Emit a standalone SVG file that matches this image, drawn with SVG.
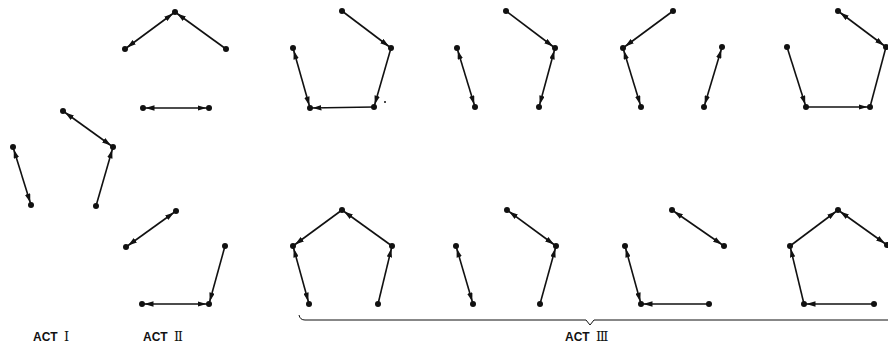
<svg xmlns="http://www.w3.org/2000/svg" width="888" height="351" viewBox="0 0 888 351">
<style>
.e{stroke:#111;stroke-width:1.6;fill:none}
.d circle{fill:#111}
.lbl{font-family:"Liberation Sans","DejaVu Sans",sans-serif;font-size:12px;font-weight:bold;fill:#111}
.rn{font-family:"DejaVu Serif","Liberation Serif",serif;font-weight:normal;font-size:13px;letter-spacing:-1.5px}
.br{stroke:#111;stroke-width:1;fill:none}
</style>
<defs>
<marker id="a" markerUnits="userSpaceOnUse" viewBox="0 0 9 5.5" markerWidth="9" markerHeight="5.5" refX="11.5" refY="2.75" orient="auto-start-reverse">
<path d="M0,0 L9,2.75 L0,5.5 z" fill="#111"/>
</marker>
</defs>
<g id="connectors">
<!-- Act I -->
<line class="e" x1="63" y1="111" x2="113" y2="147" marker-start="url(#a)" marker-end="url(#a)"/>
<line class="e" x1="113" y1="147" x2="96" y2="206" marker-start="url(#a)"/>
<line class="e" x1="13" y1="147" x2="31" y2="205" marker-start="url(#a)" marker-end="url(#a)"/>
<!-- Act II top -->
<line class="e" x1="175" y1="12" x2="125" y2="49" marker-start="url(#a)" marker-end="url(#a)"/>
<line class="e" x1="175" y1="12" x2="226" y2="49" marker-start="url(#a)"/>
<line class="e" x1="143" y1="108" x2="209" y2="108" marker-start="url(#a)" marker-end="url(#a)"/>
<!-- Act II bottom -->
<line class="e" x1="176" y1="211" x2="126" y2="247" marker-start="url(#a)" marker-end="url(#a)"/>
<line class="e" x1="225" y1="246" x2="209" y2="304" marker-end="url(#a)"/>
<line class="e" x1="142" y1="304" x2="209" y2="304" marker-start="url(#a)" marker-end="url(#a)"/>
<!-- Act III top 1 -->
<line class="e" x1="342" y1="11" x2="391" y2="48" marker-end="url(#a)"/>
<line class="e" x1="391" y1="48" x2="374" y2="107" marker-end="url(#a)"/>
<line class="e" x1="374" y1="107" x2="310" y2="108" marker-end="url(#a)"/>
<line class="e" x1="293" y1="48" x2="310" y2="108" marker-start="url(#a)" marker-end="url(#a)"/>
<!-- Act III top 2 -->
<line class="e" x1="506" y1="11" x2="555" y2="48" marker-end="url(#a)"/>
<line class="e" x1="555" y1="48" x2="539" y2="107" marker-start="url(#a)" marker-end="url(#a)"/>
<line class="e" x1="457" y1="48" x2="475" y2="107" marker-start="url(#a)" marker-end="url(#a)"/>
<!-- Act III top 3 -->
<line class="e" x1="673" y1="11" x2="623" y2="48" marker-end="url(#a)"/>
<line class="e" x1="623" y1="48" x2="641" y2="107" marker-start="url(#a)" marker-end="url(#a)"/>
<line class="e" x1="722" y1="47" x2="704" y2="107" marker-start="url(#a)" marker-end="url(#a)"/>
<!-- Act III top 4 -->
<line class="e" x1="838" y1="11" x2="886" y2="47" marker-start="url(#a)" marker-end="url(#a)"/>
<line class="e" x1="886" y1="47" x2="870" y2="107"/>
<line class="e" x1="787" y1="47" x2="806" y2="107" marker-end="url(#a)"/>
<line class="e" x1="806" y1="107" x2="870" y2="107" marker-end="url(#a)"/>
<!-- Act III bottom 1 -->
<line class="e" x1="342" y1="210" x2="293" y2="246" marker-end="url(#a)"/>
<line class="e" x1="342" y1="210" x2="392" y2="246" marker-start="url(#a)"/>
<line class="e" x1="293" y1="246" x2="309" y2="304" marker-start="url(#a)" marker-end="url(#a)"/>
<line class="e" x1="378" y1="304" x2="392" y2="246" marker-end="url(#a)"/>
<!-- Act III bottom 2 -->
<line class="e" x1="507" y1="210" x2="556" y2="246" marker-start="url(#a)" marker-end="url(#a)"/>
<line class="e" x1="540" y1="304" x2="556" y2="246" marker-end="url(#a)"/>
<line class="e" x1="456" y1="246" x2="473" y2="304" marker-start="url(#a)" marker-end="url(#a)"/>
<!-- Act III bottom 3 -->
<line class="e" x1="672" y1="210" x2="724" y2="246" marker-start="url(#a)" marker-end="url(#a)"/>
<line class="e" x1="625" y1="246" x2="641" y2="304" marker-start="url(#a)" marker-end="url(#a)"/>
<line class="e" x1="709" y1="304" x2="641" y2="304" marker-end="url(#a)"/>
<!-- Act III bottom 4 -->
<line class="e" x1="790" y1="246" x2="838" y2="210" marker-end="url(#a)"/>
<line class="e" x1="838" y1="210" x2="887" y2="245" marker-start="url(#a)" marker-end="url(#a)"/>
<line class="e" x1="804" y1="304" x2="790" y2="246" marker-end="url(#a)"/>
<line class="e" x1="874" y1="304" x2="804" y2="304" marker-end="url(#a)"/>
</g>
<g id="act1" class="d">
<circle cx="63" cy="111" r="3"/><circle cx="113" cy="147" r="3"/><circle cx="96" cy="206" r="3"/><circle cx="13" cy="147" r="3"/><circle cx="31" cy="205" r="3"/>
</g>
<g id="act2a" class="d">
<circle cx="175" cy="12" r="3"/><circle cx="125" cy="49" r="3"/><circle cx="226" cy="49" r="3"/><circle cx="143" cy="108" r="3"/><circle cx="209" cy="108" r="3"/>
</g>
<g id="act2b" class="d">
<circle cx="176" cy="211" r="3"/><circle cx="126" cy="247" r="3"/><circle cx="225" cy="246" r="3"/><circle cx="142" cy="304" r="3"/><circle cx="209" cy="304" r="3"/>
</g>
<g id="act3t1" class="d">
<circle cx="342" cy="11" r="3"/><circle cx="391" cy="48" r="3"/><circle cx="374" cy="107" r="3"/><circle cx="310" cy="108" r="3"/><circle cx="293" cy="48" r="3"/><circle cx="385" cy="102" r="1"/>
</g>
<g id="act3t2" class="d">
<circle cx="506" cy="11" r="3"/><circle cx="555" cy="48" r="3"/><circle cx="539" cy="107" r="3"/><circle cx="457" cy="48" r="3"/><circle cx="475" cy="107" r="3"/>
</g>
<g id="act3t3" class="d">
<circle cx="673" cy="11" r="3"/><circle cx="623" cy="48" r="3"/><circle cx="641" cy="107" r="3"/><circle cx="722" cy="47" r="3"/><circle cx="704" cy="107" r="3"/>
</g>
<g id="act3t4" class="d">
<circle cx="838" cy="11" r="3"/><circle cx="886" cy="47" r="3"/><circle cx="870" cy="107" r="3"/><circle cx="787" cy="47" r="3"/><circle cx="806" cy="107" r="3"/>
</g>
<g id="act3b1" class="d">
<circle cx="342" cy="210" r="3"/><circle cx="293" cy="246" r="3"/><circle cx="392" cy="246" r="3"/><circle cx="309" cy="304" r="3"/><circle cx="378" cy="304" r="3"/>
</g>
<g id="act3b2" class="d">
<circle cx="507" cy="210" r="3"/><circle cx="556" cy="246" r="3"/><circle cx="540" cy="304" r="3"/><circle cx="456" cy="246" r="3"/><circle cx="473" cy="304" r="3"/>
</g>
<g id="act3b3" class="d">
<circle cx="672" cy="210" r="3"/><circle cx="724" cy="246" r="3"/><circle cx="625" cy="246" r="3"/><circle cx="641" cy="304" r="3"/><circle cx="709" cy="304" r="3"/>
</g>
<g id="act3b4" class="d">
<circle cx="838" cy="210" r="3"/><circle cx="790" cy="246" r="3"/><circle cx="887" cy="245" r="3"/><circle cx="804" cy="304" r="3"/><circle cx="874" cy="304" r="3"/>
</g>
<g id="brace">
<path class="br" d="M299,315 Q300,320 305,320 L586,320 L590,325 L594,320 L888,320"/>
</g>
<g id="labels">
<text class="lbl" x="33" y="341">ACT <tspan class="rn" dx="3">I</tspan></text>
<text class="lbl" x="143" y="341">ACT <tspan class="rn" dx="3">II</tspan></text>
<text class="lbl" x="565" y="341">ACT <tspan class="rn" dx="3">III</tspan></text>
</g>
</svg>
